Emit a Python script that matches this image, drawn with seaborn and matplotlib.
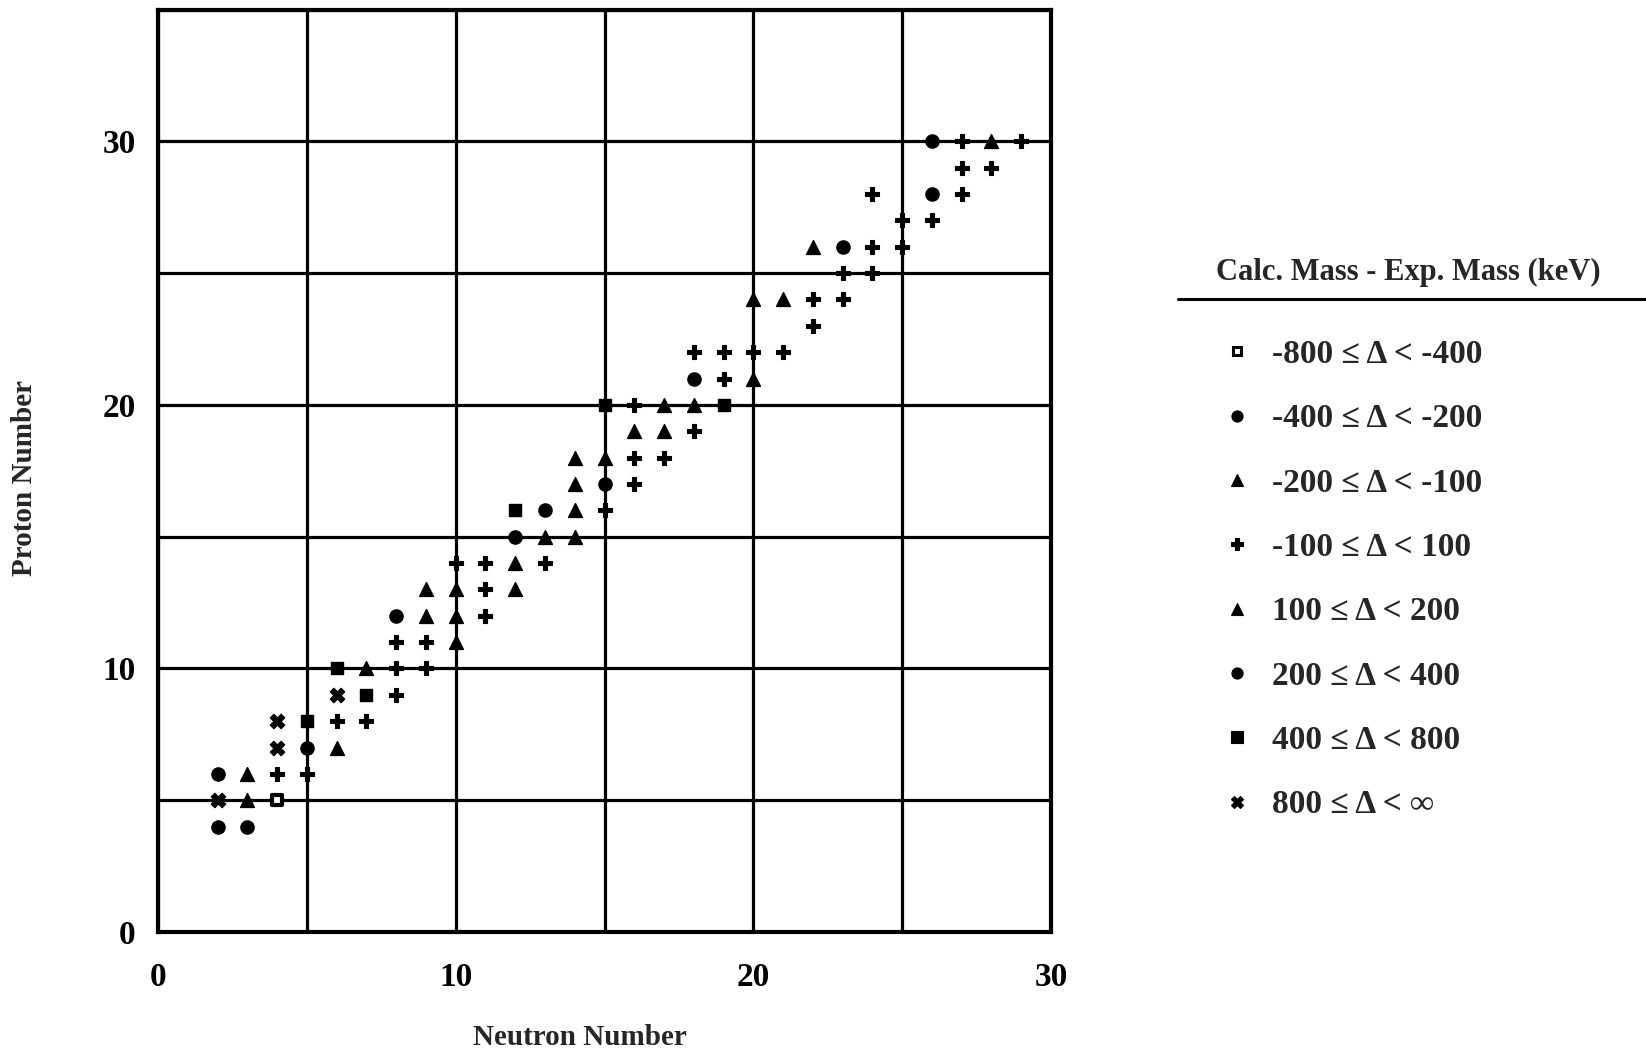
import matplotlib
matplotlib.use("Agg")
import matplotlib.pyplot as plt
from matplotlib.lines import Line2D
import pandas as pd
import seaborn as sns

# Neutron (N) and proton (Z) numbers of each nucleus, grouped by mass-difference bin
n_m800 = [4]
z_m800 = [5]

n_m400 = [2, 3, 12, 15, 18, 23]
z_m400 = [4, 4, 15, 17, 21, 26]

n_m200 = [3, 6, 10, 10, 12, 13, 14, 14, 17, 18, 20, 21, 28]
z_m200 = [5, 7, 11, 12, 13, 15, 15, 16, 19, 20, 21, 24, 30]

n_m100 = [4, 5, 6, 7, 8, 8, 9, 8, 9, 11, 11, 10, 11, 13, 15, 16, 16, 17, 18, 16,
          19, 18, 19, 20, 21, 22, 22, 23, 23, 24, 24, 25, 25, 26, 24, 27, 27, 28, 27, 29]
z_m100 = [6, 6, 8, 8, 9, 10, 10, 11, 11, 12, 13, 14, 14, 14, 16, 17, 18, 18, 19, 20,
          21, 22, 22, 22, 22, 23, 24, 24, 25, 25, 26, 26, 27, 27, 28, 28, 29, 29, 30, 30]

n_p100 = [3, 7, 9, 9, 10, 12, 14, 14, 15, 16, 17, 20, 22]
z_p100 = [6, 10, 12, 13, 13, 14, 17, 18, 18, 19, 20, 24, 26]

n_p200 = [2, 5, 8, 13, 26, 26]
z_p200 = [6, 7, 12, 16, 28, 30]

n_p400 = [5, 7, 6, 12, 15, 19]
z_p400 = [8, 9, 10, 16, 20, 20]

n_p800 = [2, 4, 4, 6]
z_p800 = [5, 7, 8, 9]

bin_labels = ["-800 \u2264 \u0394 < -400", "-400 \u2264 \u0394 < -200", "-200 \u2264 \u0394 < -100",
              "-100 \u2264 \u0394 < 100", "100 \u2264 \u0394 < 200", "200 \u2264 \u0394 < 400",
              "400 \u2264 \u0394 < 800", "800 \u2264 \u0394 < \u221e"]

x_ticks = [0, 5, 10, 15, 20, 25, 30]
x_ticklabels = ["0", "", "10", "", "20", "", "30"]
y_ticks = [0, 5, 10, 15, 20, 25, 30, 35]
y_ticklabels = ["0", "", "10", "", "20", "", "30", ""]

groups = [(n_m800, z_m800), (n_m400, z_m400), (n_m200, z_m200), (n_m100, z_m100),
          (n_p100, z_p100), (n_p200, z_p200), (n_p400, z_p400), (n_p800, z_p800)]
frames = []
for lab, (nn, zz) in zip(bin_labels, groups):
    frames.append(pd.DataFrame({"N": nn, "Z": zz, "bin": lab}))
df = pd.concat(frames, ignore_index=True)

sns.set_style("white")
serif = ["Liberation Serif", "DejaVu Serif"]
plt.rcParams["font.family"] = serif
plt.rcParams["font.weight"] = "bold"

# marker, point size, face colour, edge width per bin
styles = {
    bin_labels[0]: dict(marker="s", s=58, facecolor="white", linewidth=3.0),
    bin_labels[1]: dict(marker="o", s=90, facecolor="black", linewidth=1.0),
    bin_labels[2]: dict(marker="^", s=100, facecolor="black", linewidth=1.0),
    bin_labels[3]: dict(marker="P", s=100, facecolor="black", linewidth=0.8),
    bin_labels[4]: dict(marker="^", s=100, facecolor="black", linewidth=1.0),
    bin_labels[5]: dict(marker="o", s=90, facecolor="black", linewidth=1.0),
    bin_labels[6]: dict(marker="s", s=80, facecolor="black", linewidth=1.0),
    bin_labels[7]: dict(marker="X", s=110, facecolor="black", linewidth=0.8),
}

fig = plt.figure(figsize=(16.46, 10.54), dpi=100)
W, H = 1646, 1054
ax = fig.add_axes([158 / W, (H - 932) / H, 893 / W, 922.5 / H])

for lab in bin_labels:
    st = styles[lab]
    sub = df[df["bin"] == lab]
    sns.scatterplot(data=sub, x="N", y="Z", ax=ax, marker=st["marker"], s=st["s"],
                    color=st["facecolor"], edgecolor="black", linewidth=st["linewidth"],
                    legend=False, zorder=3, clip_on=False)

ax.set_xlim(0, 30)
ax.set_ylim(0, 35)
ax.set_xticks(x_ticks)
ax.set_xticklabels(x_ticklabels)
ax.set_yticks(y_ticks)
ax.set_yticklabels(y_ticklabels)
ax.grid(True, color="black", linewidth=2.3)
ax.set_axisbelow(True)
for sp in ax.spines.values():
    sp.set_visible(True)
    sp.set_color("black")
    sp.set_linewidth(3.0)
ax.tick_params(axis="both", direction="out", length=7, width=2.3, color="black",
               labelsize=24, labelcolor="black")
ax.tick_params(axis="x", pad=14.5)
ax.tick_params(axis="y", pad=9)
for t in ax.get_xticklabels() + ax.get_yticklabels():
    t.set_fontweight("bold")

ax.set_xlabel("Neutron Number", fontsize=21, fontweight="bold")
ax.set_ylabel("Proton Number", fontsize=21, fontweight="bold")
ax.xaxis.label.set_verticalalignment("baseline")
ax.xaxis.set_label_coords((580 - 158) / 893, (932 - 1045) / 922.5)
ax.yaxis.label.set_verticalalignment("baseline")
ax.yaxis.set_label_coords((32 - 158) / 893, (932 - 478) / 922.5)

# legend: heading with a rule beneath, then one row per bin
fig.text(1408 / W, 1 - 280 / H, "Calc. Mass - Exp. Mass (keV)", ha="center",
         va="baseline", fontsize=22, fontweight="bold")
fig.add_artist(Line2D([1178 / W, 1.0], [1 - 299 / H] * 2, transform=fig.transFigure,
                      color="black", linewidth=2.2))

handles = []
for lab in bin_labels:
    st = styles[lab]
    ms = 8.0 if st["marker"] != "s" or st["facecolor"] == "black" else 6.0
    mew = 2.2 if st["facecolor"] == "white" else 0.8
    handles.append(Line2D([], [], linestyle="none", marker=st["marker"], markersize=ms,
                          markerfacecolor=st["facecolor"], markeredgecolor="black",
                          markeredgewidth=mew))
fig.legend(handles, bin_labels, loc="upper left",
           bbox_to_anchor=(1226.5 / W, 1 - 339 / H), bbox_transform=fig.transFigure,
           frameon=False, prop={"family": serif, "weight": "bold", "size": 24},
           handlelength=0.6, handletextpad=0.77, labelspacing=1.0,
           borderpad=0, borderaxespad=0, numpoints=1)

fig.savefig("out.png", dpi=100, facecolor="white")
